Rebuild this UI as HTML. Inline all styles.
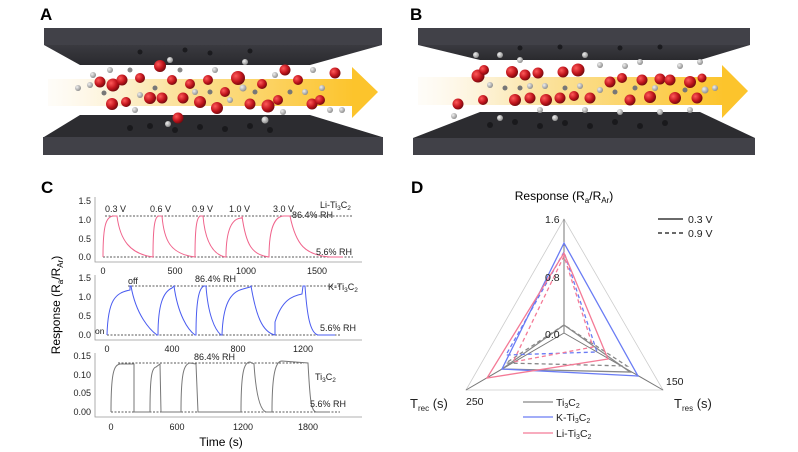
<!DOCTYPE html>
<html><head><meta charset="utf-8"><style>
html,body{margin:0;padding:0;background:#fff;width:798px;height:452px;overflow:hidden}
svg{display:block;font-family:"Liberation Sans",Arial,sans-serif}
</style></head><body>
<svg width="798" height="452" viewBox="0 0 798 452" xmlns="http://www.w3.org/2000/svg">
<defs>
<linearGradient id="arr" x1="0" x2="1"><stop offset="0" stop-color="#fdf6e8" stop-opacity="0.3"/><stop offset="0.4" stop-color="#fbe3a0"/><stop offset="1" stop-color="#fcc42c"/></linearGradient>
<radialGradient id="red" cx="0.35" cy="0.35" r="0.7"><stop offset="0" stop-color="#ff5a5a"/><stop offset="0.6" stop-color="#c0141c"/><stop offset="1" stop-color="#6e0a0e"/></radialGradient>
<radialGradient id="gry" cx="0.35" cy="0.35" r="0.7"><stop offset="0" stop-color="#f0f0f0"/><stop offset="1" stop-color="#8a8a8a"/></radialGradient>
<linearGradient id="tp" x1="0" y1="0" x2="0" y2="1"><stop offset="0" stop-color="#3a3a40"/><stop offset="1" stop-color="#2a2a2e"/></linearGradient>
</defs>

<!-- Panel A -->
<text x="40" y="20" font-size="17" font-weight="bold">A</text>
<polygon points="44,45 382,45 310,65 80,65" fill="url(#tp)"/>
<rect x="44" y="28" width="338" height="17" fill="#414148"/>
<polygon points="80,115 310,115 382,137 44,137" fill="#2c2c30"/>
<rect x="43" y="137" width="340" height="18" fill="#414148"/>
<g fill="#151518" opacity="0.8">
<circle cx="130" cy="128" r="3"/><circle cx="150" cy="126" r="3"/><circle cx="175" cy="130" r="3"/><circle cx="200" cy="127" r="3"/><circle cx="225" cy="129" r="3"/><circle cx="250" cy="126" r="3"/><circle cx="270" cy="130" r="3"/>
<circle cx="140" cy="52" r="2.5"/><circle cx="185" cy="50" r="2.5"/><circle cx="210" cy="53" r="2.5"/><circle cx="250" cy="51" r="2.5"/>
</g>
<rect x="48" y="79" width="306" height="27" fill="url(#arr)"/>
<polygon points="352,67 378,92 352,118" fill="#fcc42c"/>
<g>
<circle cx="90" cy="85" r="3" fill="url(#gry)"/><circle cx="93" cy="75" r="3" fill="url(#gry)"/>
<circle cx="100" cy="82" r="5.5" fill="url(#red)"/><circle cx="113" cy="85" r="6.5" fill="url(#red)"/>
<circle cx="122" cy="80" r="5.5" fill="url(#red)"/><circle cx="110" cy="70" r="3" fill="url(#gry)"/>
<circle cx="112" cy="104" r="6" fill="url(#red)"/><circle cx="126" cy="102" r="5" fill="url(#red)"/>
<circle cx="140" cy="78" r="5" fill="url(#red)"/><circle cx="160" cy="66" r="6" fill="url(#red)"/>
<circle cx="170" cy="60" r="3" fill="url(#gry)"/><circle cx="150" cy="98" r="6" fill="url(#red)"/>
<circle cx="162" cy="98" r="5.5" fill="url(#red)"/><circle cx="172" cy="80" r="5" fill="url(#red)"/>
<circle cx="183" cy="98" r="5.5" fill="url(#red)"/><circle cx="190" cy="84" r="5" fill="url(#red)"/>
<circle cx="178" cy="118" r="5.5" fill="url(#red)"/><circle cx="168" cy="124" r="3" fill="url(#gry)"/>
<circle cx="200" cy="102" r="6" fill="url(#red)"/><circle cx="208" cy="80" r="5" fill="url(#red)"/>
<circle cx="217" cy="108" r="6" fill="url(#red)"/><circle cx="225" cy="92" r="5" fill="url(#red)"/>
<circle cx="238" cy="78" r="7" fill="url(#red)"/><circle cx="243" cy="88" r="3.5" fill="url(#gry)"/>
<circle cx="245" cy="62" r="3" fill="url(#gry)"/><circle cx="250" cy="104" r="5.5" fill="url(#red)"/>
<circle cx="262" cy="84" r="5" fill="url(#red)"/><circle cx="268" cy="106" r="6.5" fill="url(#red)"/>
<circle cx="278" cy="100" r="5" fill="url(#red)"/><circle cx="265" cy="120" r="3.5" fill="url(#gry)"/>
<circle cx="283" cy="112" r="3" fill="url(#gry)"/><circle cx="285" cy="70" r="5.5" fill="url(#red)"/>
<circle cx="298" cy="80" r="5" fill="url(#red)"/><circle cx="305" cy="92" r="3" fill="url(#gry)"/>
<circle cx="312" cy="104" r="5.5" fill="url(#red)"/><circle cx="320" cy="100" r="5" fill="url(#red)"/>
<circle cx="335" cy="73" r="5.5" fill="url(#red)"/><circle cx="313" cy="70" r="3" fill="url(#gry)"/>
<circle cx="330" cy="110" r="3" fill="url(#gry)"/><circle cx="140" cy="95" r="3" fill="url(#gry)"/>
<circle cx="195" cy="92" r="3" fill="url(#gry)"/><circle cx="230" cy="100" r="3" fill="url(#gry)"/>
<circle cx="78" cy="88" r="3" fill="url(#gry)"/><circle cx="104" cy="93" r="2.5" fill="#777"/>
<circle cx="130" cy="70" r="2.5" fill="#888"/><circle cx="135" cy="110" r="3" fill="url(#gry)"/>
<circle cx="155" cy="88" r="2.5" fill="#777"/><circle cx="180" cy="70" r="2.5" fill="#888"/>
<circle cx="210" cy="92" r="2.5" fill="#777"/><circle cx="215" cy="70" r="3" fill="url(#gry)"/>
<circle cx="255" cy="92" r="2.5" fill="#777"/><circle cx="290" cy="92" r="2.5" fill="#777"/>
<circle cx="275" cy="75" r="3" fill="url(#gry)"/><circle cx="322" cy="88" r="3" fill="url(#gry)"/>
<circle cx="342" cy="110" r="3" fill="url(#gry)"/>
</g>

<!-- Panel B -->
<text x="410" y="20" font-size="17" font-weight="bold">B</text>
<polygon points="418,45 750,45 700,60 480,60" fill="url(#tp)"/>
<rect x="418" y="28" width="332" height="17" fill="#414148"/>
<polygon points="480,112 700,112 755,138 413,138" fill="#2c2c30"/>
<rect x="413" y="138" width="342" height="17" fill="#414148"/>
<g fill="#151518" opacity="0.8">
<circle cx="490" cy="125" r="3"/><circle cx="515" cy="122" r="3"/><circle cx="540" cy="126" r="3"/><circle cx="565" cy="123" r="3"/><circle cx="590" cy="126" r="3"/><circle cx="615" cy="122" r="3"/><circle cx="640" cy="126" r="3"/><circle cx="665" cy="123" r="3"/>
<circle cx="520" cy="48" r="2.5"/><circle cx="560" cy="47" r="2.5"/><circle cx="620" cy="48" r="2.5"/><circle cx="660" cy="47" r="2.5"/>
</g>
<rect x="418" y="77" width="306" height="28" fill="url(#arr)"/>
<polygon points="722,65 748,91 722,118" fill="#fcc42c"/>
<g>
<circle cx="478" cy="76" r="6.5" fill="url(#red)"/><circle cx="484" cy="70" r="5" fill="url(#red)"/>
<circle cx="476" cy="55" r="3" fill="url(#gry)"/><circle cx="458" cy="104" r="5.5" fill="url(#red)"/>
<circle cx="454" cy="116" r="3" fill="url(#gry)"/><circle cx="483" cy="100" r="5" fill="url(#red)"/>
<circle cx="512" cy="72" r="6" fill="url(#red)"/><circle cx="525" cy="75" r="5.5" fill="url(#red)"/>
<circle cx="538" cy="73" r="5.5" fill="url(#red)"/><circle cx="515" cy="100" r="6" fill="url(#red)"/>
<circle cx="530" cy="98" r="5.5" fill="url(#red)"/><circle cx="546" cy="100" r="6" fill="url(#red)"/>
<circle cx="563" cy="72" r="5.5" fill="url(#red)"/><circle cx="578" cy="70" r="6.5" fill="url(#red)"/>
<circle cx="560" cy="98" r="5.5" fill="url(#red)"/><circle cx="574" cy="96" r="5" fill="url(#red)"/>
<circle cx="590" cy="98" r="5.5" fill="url(#red)"/><circle cx="610" cy="82" r="5.5" fill="url(#red)"/>
<circle cx="622" cy="78" r="5" fill="url(#red)"/><circle cx="630" cy="100" r="5.5" fill="url(#red)"/>
<circle cx="642" cy="80" r="5.5" fill="url(#red)"/><circle cx="650" cy="97" r="6" fill="url(#red)"/>
<circle cx="660" cy="79" r="5.5" fill="url(#red)"/><circle cx="670" cy="80" r="5.5" fill="url(#red)"/>
<circle cx="675" cy="98" r="6" fill="url(#red)"/><circle cx="690" cy="82" r="6" fill="url(#red)"/>
<circle cx="697" cy="98" r="5.5" fill="url(#red)"/><circle cx="702" cy="78" r="4.5" fill="url(#red)"/>
<circle cx="500" cy="55" r="3" fill="url(#gry)"/><circle cx="520" cy="60" r="3" fill="url(#gry)"/>
<circle cx="545" cy="86" r="3" fill="url(#gry)"/><circle cx="585" cy="55" r="3" fill="url(#gry)"/>
<circle cx="600" cy="90" r="3" fill="url(#gry)"/><circle cx="640" cy="62" r="3" fill="url(#gry)"/>
<circle cx="660" cy="112" r="3" fill="url(#gry)"/><circle cx="700" cy="62" r="3" fill="url(#gry)"/>
<circle cx="705" cy="90" r="3.5" fill="url(#gry)"/><circle cx="715" cy="88" r="3" fill="url(#gry)"/>
<circle cx="620" cy="112" r="3" fill="url(#gry)"/><circle cx="555" cy="118" r="3" fill="url(#gry)"/>
<circle cx="500" cy="118" r="3" fill="url(#gry)"/><circle cx="530" cy="86" r="3" fill="url(#gry)"/>
<circle cx="490" cy="85" r="3" fill="url(#gry)"/><circle cx="505" cy="88" r="2.5" fill="#777"/>
<circle cx="520" cy="88" r="2.5" fill="#777"/><circle cx="565" cy="88" r="2.5" fill="#777"/>
<circle cx="580" cy="86" r="3" fill="url(#gry)"/><circle cx="615" cy="92" r="2.5" fill="#777"/>
<circle cx="635" cy="88" r="2.5" fill="#777"/><circle cx="655" cy="88" r="3" fill="url(#gry)"/>
<circle cx="685" cy="90" r="2.5" fill="#777"/><circle cx="600" cy="65" r="3" fill="url(#gry)"/>
<circle cx="625" cy="66" r="3" fill="url(#gry)"/><circle cx="680" cy="66" r="3" fill="url(#gry)"/>
<circle cx="540" cy="110" r="3" fill="url(#gry)"/><circle cx="585" cy="110" r="3" fill="url(#gry)"/>
<circle cx="690" cy="110" r="3" fill="url(#gry)"/>
</g>

<!-- Panel C -->
<text x="41" y="193" font-size="17" font-weight="bold">C</text>
<g font-size="9" fill="#222" stroke="none">
<path d="M95,197 V262 H362" stroke="#999" stroke-width="0.8" fill="none"/>
<g text-anchor="end">
<text x="91" y="204">1.5</text><text x="91" y="223">1.0</text><text x="91" y="242">0.5</text><text x="91" y="260">0.0</text>
</g>
<g text-anchor="middle">
<text x="103" y="274">0</text><text x="175" y="274">500</text><text x="246" y="274">1000</text><text x="317" y="274">1500</text>
</g>
<g stroke="#222" stroke-width="0.8" stroke-dasharray="2,1.5" fill="none">
<path d="M105,216 H353"/><path d="M103,257 H353"/>
</g>
<path fill="none" stroke="#f0648c" stroke-width="1" d="M103,257 C103,225 106,216 114,216 L117,216 C120,240 130,254 153,257 L153,257 C153,225 155,216 159,216 L162,216 C164,240 170,254 195,257 L195,257 C195,225 197,216 201,216 L203,216 C205,240 212,254 225,257 L226,257 C226,230 232,218 242,218 L242,216 C246,245 252,255 269,257 L269,257 C269,228 275,216 284,216 L290,216 C296,245 305,255 330,257 L343,257"/>
<text x="105" y="212">0.3 V</text><text x="150" y="212">0.6 V</text><text x="192" y="212">0.9 V</text><text x="229" y="212">1.0 V</text><text x="273" y="212">3.0 V</text>
<text x="292" y="218">86.4% RH</text>
<text x="320" y="208">Li-Ti<tspan font-size="6.5" dy="2">3</tspan><tspan dy="-2">C</tspan><tspan font-size="6.5" dy="2">2</tspan></text>
<text x="316" y="255">5.6% RH</text>

<path d="M95,275 V340 H362" stroke="#999" stroke-width="0.8" fill="none"/>
<g text-anchor="end">
<text x="91" y="281">1.5</text><text x="91" y="300">1.0</text><text x="91" y="319">0.5</text><text x="91" y="338">0.0</text>
</g>
<g text-anchor="middle">
<text x="107" y="352">0</text><text x="172" y="352">400</text><text x="238" y="352">800</text><text x="303" y="352">1200</text>
</g>
<g stroke="#222" stroke-width="0.8" stroke-dasharray="2,1.5" fill="none">
<path d="M128,286 H340"/><path d="M107,335 H340"/>
</g>
<path fill="none" stroke="#4a5cf0" stroke-width="1" d="M107,335 C108,300 115,293 130,290 L130,286 L131,286 C136,315 150,330 157,335 L158,335 C158,305 163,292 172,288 L174,286 C178,315 188,330 195,335 L196,335 C196,300 199,288 204,286 L206,286 C208,315 215,330 221,335 L222,335 C223,305 230,292 243,289 L250,287 L251,286 C256,315 262,332 275,335 L275,335 L275,322 C282,300 292,296 302,294 L303,286 L305,286 C307,315 310,333 318,335 L335,335"/>
<text x="128" y="284">off</text><text x="195" y="282">86.4% RH</text>
<text x="95" y="334" font-size="8.5">on</text>
<text x="328" y="290">K-Ti<tspan font-size="6.5" dy="2">3</tspan><tspan dy="-2">C</tspan><tspan font-size="6.5" dy="2">2</tspan></text>
<text x="320" y="331">5.6% RH</text>

<path d="M95,353 V417 H362" stroke="#999" stroke-width="0.8" fill="none"/>
<g text-anchor="end">
<text x="91" y="359">0.15</text><text x="91" y="378">0.10</text><text x="91" y="396">0.05</text><text x="91" y="415">0.00</text>
</g>
<g text-anchor="middle">
<text x="111" y="430">0</text><text x="177" y="430">600</text><text x="243" y="430">1200</text><text x="308" y="430">1800</text>
</g>
<g stroke="#222" stroke-width="0.8" stroke-dasharray="2,1.5" fill="none">
<path d="M118,363 H304"/><path d="M111,412 H340"/>
</g>
<path fill="none" stroke="#777" stroke-width="1" d="M111,412 C111,372 114,365 120,364 L134,364 L134,412 L150,412 C150,375 152,368 156,367 L160,364 L161,412 L181,412 C181,372 184,364 190,363 L196,364 L198,412 L241,412 C241,372 244,362 250,362 L254,364 C256,395 260,410 266,412 L272,412 C272,372 276,361 282,361 L308,363 C310,400 311,411 316,412 L330,412"/>
<text x="194" y="360">86.4% RH</text>
<text x="315" y="380">Ti<tspan font-size="6.5" dy="2">3</tspan><tspan dy="-2">C</tspan><tspan font-size="6.5" dy="2">2</tspan></text>
<text x="310" y="407">5.6% RH</text>
</g>
<text x="221" y="446" font-size="12" text-anchor="middle">Time (s)</text>
<text transform="translate(60,305) rotate(-90)" font-size="12" text-anchor="middle">Response (R<tspan font-size="8" dy="3">a</tspan><tspan dy="-3">/R</tspan><tspan font-size="8" dy="3">Ar</tspan><tspan dy="-3">)</tspan></text>

<!-- Panel D -->
<text x="411" y="193" font-size="17" font-weight="bold">D</text>
<text x="564" y="200" font-size="12" text-anchor="middle">Response (R<tspan font-size="8" dy="3">a</tspan><tspan dy="-3">/R</tspan><tspan font-size="8" dy="3">Ar</tspan><tspan dy="-3">)</tspan></text>
<polygon points="564,219 466,390 663,390" fill="none" stroke="#ccc" stroke-width="0.8"/>
<path d="M564,219 V333 M564,333 L466,390 M564,333 L663,390" stroke="#777" stroke-width="1" fill="none"/>
<g fill="none" stroke-width="1.3">
<polygon points="564,325 502,369 630,372" stroke="#888"/>
<polygon points="564,325 506,363 627,366" stroke="#888" stroke-dasharray="4,3"/>
<polygon points="564,243 502,369 638,376" stroke="#6a7cf4"/>
<polygon points="564,252 506,355 597,352" stroke="#6a7cf4" stroke-dasharray="4,3"/>
<polygon points="564,253 487,378 608,359" stroke="#f47a96"/>
<polygon points="564,256 513,362 593,347" stroke="#f47a96" stroke-dasharray="4,3"/>
</g>
<g font-size="10.5" fill="#222">
<text x="545" y="223">1.6</text><text x="545" y="281">0.8</text><text x="545" y="338">0.0</text>
<text x="666" y="385">150</text><text x="466" y="405">250</text>
<text x="410" y="408" font-size="13">T<tspan font-size="8" dy="3">rec</tspan><tspan dy="-3"> (s)</tspan></text>
<text x="674" y="408" font-size="13">T<tspan font-size="8" dy="3">res</tspan><tspan dy="-3"> (s)</tspan></text>
<text x="688" y="223">0.3 V</text><text x="688" y="237">0.9 V</text>
<text x="556" y="406">Ti<tspan font-size="7" dy="2">3</tspan><tspan dy="-2">C</tspan><tspan font-size="7" dy="2">2</tspan></text>
<text x="556" y="421">K-Ti<tspan font-size="7" dy="2">3</tspan><tspan dy="-2">C</tspan><tspan font-size="7" dy="2">2</tspan></text>
<text x="556" y="437">Li-Ti<tspan font-size="7" dy="2">3</tspan><tspan dy="-2">C</tspan><tspan font-size="7" dy="2">2</tspan></text>
</g>
<path d="M658,219 H683" stroke="#111" stroke-width="1.3"/>
<path d="M658,233 H683" stroke="#111" stroke-width="1.3" stroke-dasharray="4,3"/>
<path d="M523,402 H553" stroke="#888" stroke-width="1.3"/>
<path d="M523,417 H553" stroke="#6a7cf4" stroke-width="1.3"/>
<path d="M523,433 H553" stroke="#f47a96" stroke-width="1.3"/>
</svg>
</body></html>
